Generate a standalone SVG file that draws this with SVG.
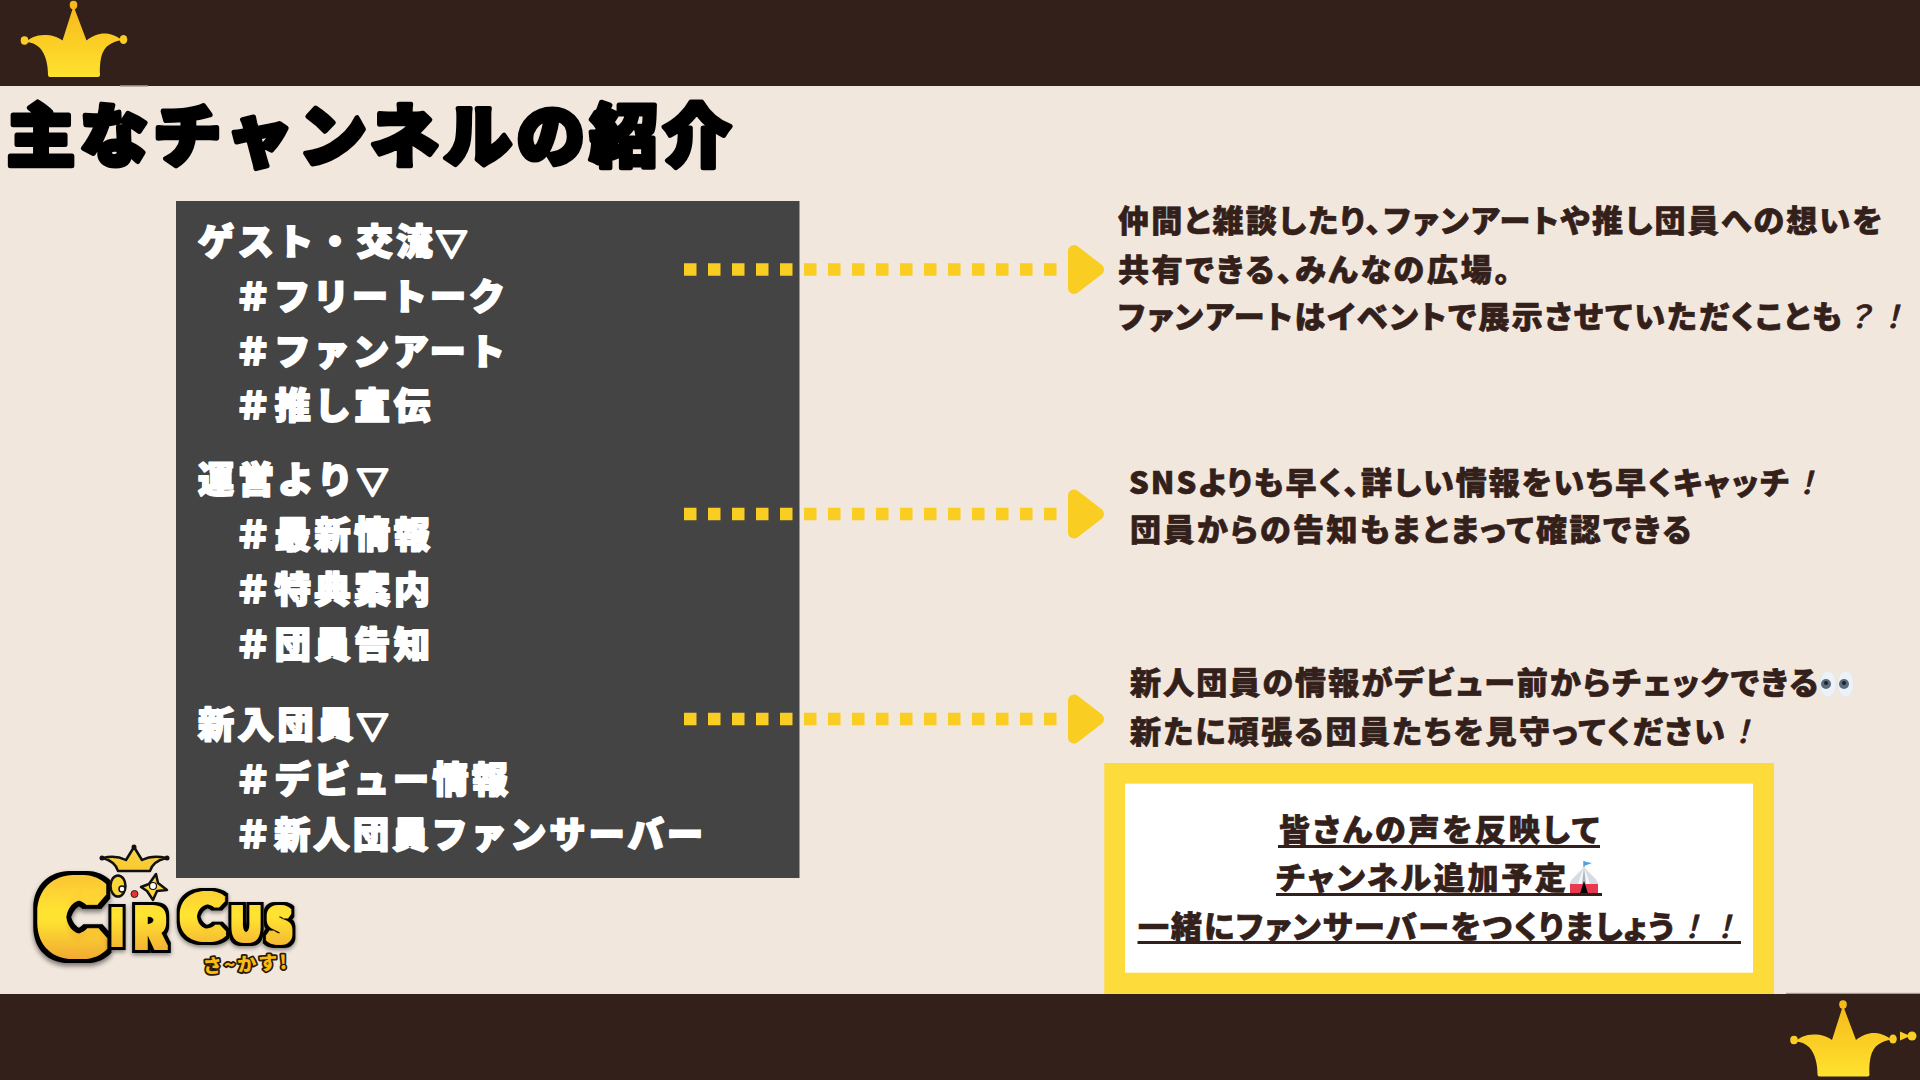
<svg xmlns="http://www.w3.org/2000/svg" width="1920" height="1080" viewBox="0 0 1920 1080">
<style>
text{font-family:"Noto Sans CJK JP","Noto Sans",sans-serif;font-weight:900}
.title{font-size:68px;fill:#000;stroke:#000;stroke-width:5px;stroke-linejoin:round}
.ch{font-size:36px;fill:#fff;stroke:#fff;stroke-width:2px;stroke-linejoin:round}
.tri{font-size:31px;stroke-width:3px}
.d{font-size:31px;fill:#33201a;stroke:#33201a;stroke-width:.7px;font-feature-settings:"palt"}
.ex{font-style:italic;font-weight:500;font-feature-settings:normal}
.ul{fill:#33201a}
.conn{stroke:#f9cd22;stroke-width:12.5;stroke-dasharray:12.5 11.5;fill:none;marker-end:url(#head)}
.lg{fill:url(#lgGrad)}
.sub{font-size:19px;fill:#f7bb14;stroke:#2a1a05;stroke-width:3.5px;paint-order:stroke;stroke-linejoin:round}
</style>
<defs>
<linearGradient id="cg" gradientUnits="userSpaceOnUse" x1="0" y1="5" x2="0" y2="77"><stop offset="0" stop-color="#f6b91a"/><stop offset="1" stop-color="#ffe22f"/></linearGradient>
<linearGradient id="lgGrad" gradientUnits="userSpaceOnUse" x1="0" y1="885" x2="0" y2="960"><stop offset="0" stop-color="#fcc833"/><stop offset=".4" stop-color="#ffe330"/><stop offset="1" stop-color="#efa032"/></linearGradient>
<linearGradient id="lc" x1="0" y1="0" x2="0" y2="1"><stop offset="0" stop-color="#f6d447"/><stop offset="1" stop-color="#f9c92e"/></linearGradient>
<g id="crown" fill="url(#cg)">
<path d="M73.500 6L86.500 40.500C93 35 100 33 106 33.500C112 34 118 37 122 40C112 42 104 45 101 58C100 63 99.500 70 100 75Q100 77 98 77L50 77Q48 77 48 75C48 65 46 55 40 48C36 44 31 42 26 42C30 38 36 35 44 35C52 35 58 37 62.500 40.500Z"/>
<ellipse cx="73.500" cy="5" rx="3.800" ry="4.200"/><ellipse cx="24.500" cy="40.500" rx="3.800" ry="4.200"/><ellipse cx="123.500" cy="39.500" rx="3.800" ry="4.500"/>
</g>
<marker id="head" markerUnits="userSpaceOnUse" markerWidth="36" markerHeight="49" refX="-11" refY="24.500" orient="auto" overflow="visible"><polygon points="6,6 30,24.500 6,43" fill="#f9cd22" stroke="#f9cd22" stroke-width="12" stroke-linejoin="round"/></marker>
<filter id="big" x="-40%" y="-30%" width="180%" height="160%" color-interpolation-filters="sRGB">
<feMorphology in="SourceGraphic" operator="dilate" radius="5" result="f"/>
<feMorphology in="SourceAlpha" operator="dilate" radius="8.500" result="o"/>
<feGaussianBlur in="o" stdDeviation=".6" result="ob"/>
<feGaussianBlur in="o" stdDeviation="2.500"/><feOffset dy="3"/><feComponentTransfer result="s"><feFuncA type="linear" slope=".5"/></feComponentTransfer>
<feMerge><feMergeNode in="s"/><feMergeNode in="ob"/><feMergeNode in="f"/></feMerge>
</filter>
<filter id="small" x="-60%" y="-40%" width="220%" height="180%" color-interpolation-filters="sRGB">
<feMorphology in="SourceGraphic" operator="dilate" radius="2" result="f"/>
<feMorphology in="SourceAlpha" operator="dilate" radius="5" result="o"/>
<feGaussianBlur in="o" stdDeviation=".6" result="ob"/>
<feGaussianBlur in="o" stdDeviation="2"/><feOffset dy="2"/><feComponentTransfer result="s"><feFuncA type="linear" slope=".45"/></feComponentTransfer>
<feMerge><feMergeNode in="s"/><feMergeNode in="ob"/><feMergeNode in="f"/></feMerge>
</filter>
</defs>
<rect width="1920" height="1080" fill="#f1e7dd"/>
<g id="top-band"><rect width="1920" height="86" fill="#33201a"/><rect x="120" y="85" width="28" height="1.500" fill="#8a7c72"/><use href="#crown"/></g>
<g id="bottom-band"><rect y="994" width="1920" height="86" fill="#33201a"/><rect x="1786" y="992.800" width="134" height="1.200" fill="#a79a90"/><use href="#crown" x="1769.500" y="999.500"/><path d="M1900 1031.500L1908 1035V1037L1900 1040.500Z" fill="#fbd024"/><circle cx="1912" cy="1036" r="4.500" fill="#fbd024"/></g>
<g id="title"><text class="title" x="7" y="161" textLength="724">主なチャンネルの紹介</text></g>
<g id="channel-list">
<rect x="176" y="201" width="623.500" height="677" fill="#444444"/>
<text class="ch" x="198" y="255" textLength="269">ゲスト・交流<tspan class="tri">▽</tspan></text>
<text class="ch" x="235" y="310" textLength="270">&#xFF03;フリートーク</text>
<text class="ch" x="235" y="365" textLength="270">&#xFF03;ファンアート</text>
<text class="ch" x="235" y="419" textLength="195">&#xFF03;推し宣伝</text>
<text class="ch" x="198" y="493" textLength="190">運営より<tspan class="tri">▽</tspan></text>
<text class="ch" x="235" y="548" textLength="195">&#xFF03;最新情報</text>
<text class="ch" x="235" y="603" textLength="195">&#xFF03;特典案内</text>
<text class="ch" x="235" y="658" textLength="195">&#xFF03;団員告知</text>
<text class="ch" x="198" y="738" textLength="190">新入団員<tspan class="tri">▽</tspan></text>
<text class="ch" x="235" y="793" textLength="273">&#xFF03;デビュー情報</text>
<text class="ch" x="235" y="848" textLength="468">&#xFF03;新人団員ファンサーバー</text>
</g>
<g id="connectors">
<line class="conn" x1="684" y1="269.500" x2="1057" y2="269.500"/>
<line class="conn" x1="684" y1="514" x2="1057" y2="514"/>
<line class="conn" x1="684" y1="719" x2="1057" y2="719"/>
</g>
<g id="desc-guest">
<text class="d" x="1118" y="232" textLength="764">仲間と雑談したり、ファンアートや推し団員への想いを</text>
<text class="d" x="1118" y="281" textLength="392">共有できる、みんなの広場。</text>
<text class="d" x="1118" y="328" textLength="790">ファンアートはイベントで展示させていただくことも<tspan class="ex">&#xFF1F;&#xFF01;</tspan></text>
</g>
<g id="desc-info">
<text class="d" x="1129" y="494" textLength="693">SNSよりも早く、詳しい情報をいち早くキャッチ<tspan class="ex">&#xFF01;</tspan></text>
<text class="d" x="1130" y="541" textLength="561">団員からの告知もまとまって確認できる</text>
</g>
<g id="desc-new">
<text class="d" x="1130" y="694" textLength="688">新人団員の情報がデビュー前からチェックできる</text>
<g id="eyes"><ellipse cx="1828" cy="684" rx="8" ry="13" fill="#edf2f8" stroke="#dfe7ef" stroke-width=".8"/><ellipse cx="1845.700" cy="684" rx="8" ry="13" fill="#edf2f8" stroke="#dfe7ef" stroke-width=".8"/><circle cx="1826" cy="684" r="5" fill="#5a6b7c"/><circle cx="1844" cy="684" r="5" fill="#5a6b7c"/><circle cx="1826" cy="683" r="2" fill="#1d232a"/><circle cx="1844" cy="683" r="2" fill="#1d232a"/></g>
<text class="d" x="1130" y="743" textLength="628">新たに頑張る団員たちを見守ってください<tspan class="ex">&#xFF01;</tspan></text>
</g>
<g id="note">
<rect x="1104.300" y="763" width="669.700" height="231" fill="#fddb3a"/>
<rect x="1125" y="783.700" width="628" height="189" fill="#fff"/>
<text class="d" x="1279" y="841" textLength="320">皆さんの声を反映して</text>
<rect class="ul" x="1278" y="845" width="322" height="3"/>
<text class="d" x="1276" y="889" textLength="290">チャンネル追加予定</text>
<g id="tent"><path d="M1584 861V870" stroke="#555" stroke-width="1"/><path d="M1584 861.500l8 1.500-8 3z" fill="#4aa3e0"/><path d="M1584 866C1581 872 1573 876 1570 883L1570 885H1598V883C1595 876 1587 872 1584 866Z" fill="#d5dce2"/><path d="M1584 866L1578 884H1590Z" fill="#f5f7f9"/><path d="M1584 866L1582 884H1586Z" fill="#aeb8c2"/><rect x="1570" y="884" width="28" height="11" fill="#e8394f"/><path d="M1584 881L1579.500 895H1588.500Z" fill="#000"/></g>
<rect class="ul" x="1276" y="893" width="326" height="3"/>
<text class="d" x="1138" y="938" textLength="602">一緒にファンサーバーをつくりましょう<tspan class="ex">&#xFF01;&#xFF01;</tspan></text>
<rect class="ul" x="1137.500" y="941" width="603.500" height="3"/>
</g>
<g id="logo">
<text class="lg" x="37" y="953" font-size="96" textLength="68" lengthAdjust="spacingAndGlyphs" filter="url(#big)">C</text>
<g filter="url(#small)">
<text class="lg" x="110" y="945" font-size="48" textLength="14" lengthAdjust="spacingAndGlyphs">I</text>
<text class="lg" x="133" y="948" font-size="55" textLength="34" lengthAdjust="spacingAndGlyphs">R</text>
<text class="lg" x="178" y="939" font-size="60" textLength="48" lengthAdjust="spacingAndGlyphs">C</text>
<text class="lg" x="230" y="940" font-size="44" textLength="32" lengthAdjust="spacingAndGlyphs">U</text>
<text class="lg" x="266" y="942" font-size="46" textLength="26" lengthAdjust="spacingAndGlyphs">S</text>
</g>
<path d="M134 847L142 860C150 856 158 856 166 858C158 860 152 864 150 871H118C116 864 110 860 103 858C110 856 118 856 126 860Z" fill="url(#lc)" stroke="#111" stroke-width="2.500" stroke-linejoin="round"/>
<circle cx="134" cy="847" r="2.500" fill="#111"/><circle cx="102" cy="858" r="2.500" fill="#111"/><circle cx="167" cy="858" r="2.500" fill="#111"/>
<ellipse cx="118" cy="886" rx="7.500" ry="10.500" fill="#fbd53c" stroke="#111" stroke-width="2.500"/><circle cx="122" cy="889" r="3" fill="#fff" stroke="#111" stroke-width="1.500"/>
<circle cx="134.500" cy="894" r="3.500" fill="#e8342c" stroke="#222" stroke-width="1"/>
<path d="M156 874L158 883L167 890L157 891L153 900L147 891L141 887L149 884Z" fill="#fbd53c" stroke="#111" stroke-width="2.500" stroke-linejoin="round"/><circle cx="153" cy="886" r="3.500" fill="#fff" stroke="#111" stroke-width="1.200"/>
<text class="sub" x="203" y="971" textLength="84" transform="rotate(-3 245 965)">さ~かす!</text>
</g>
</svg>
